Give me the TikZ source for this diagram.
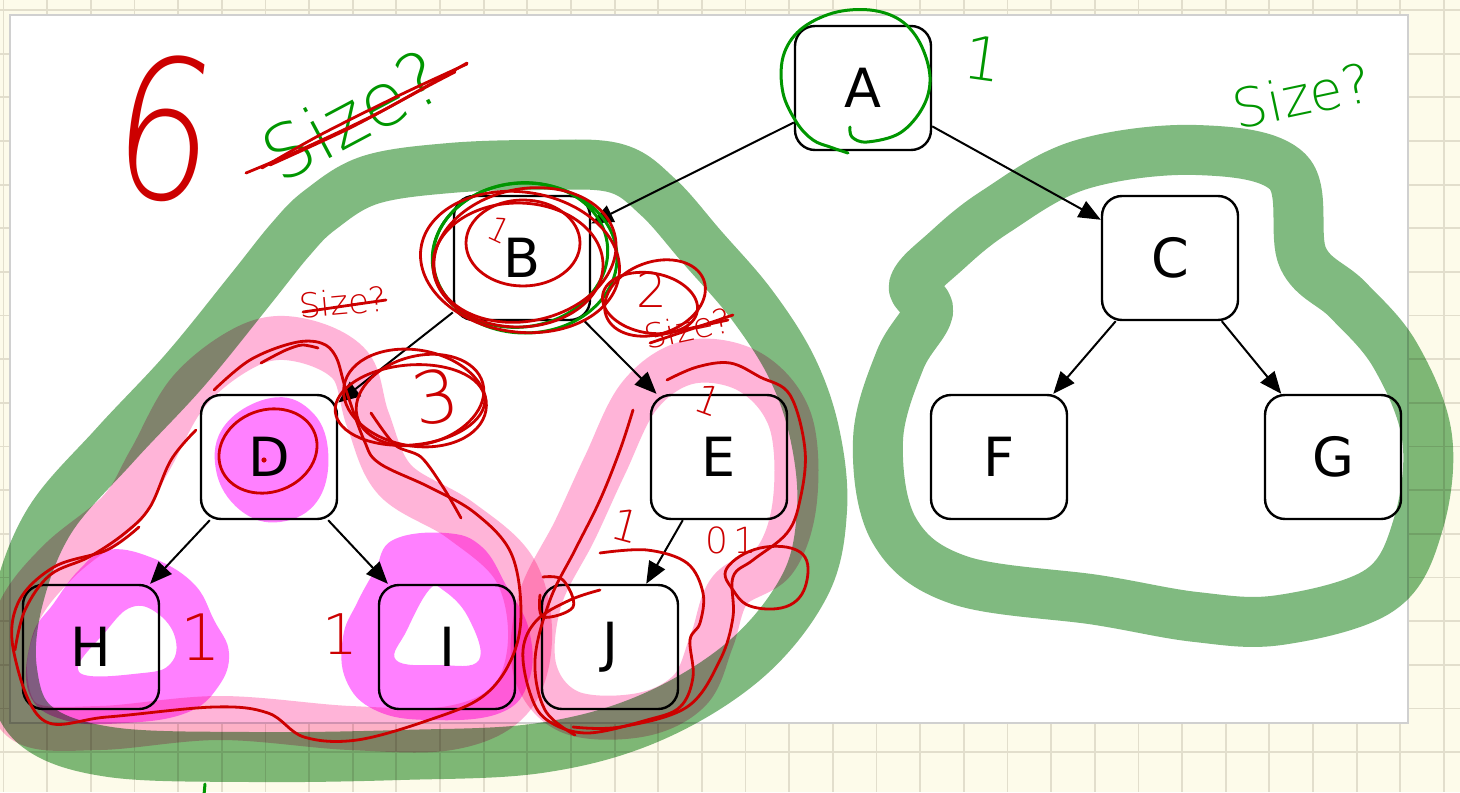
\documentclass[tikz,border=0pt]{standalone}
\usepackage{fontspec}
\setmainfont{DejaVu Sans}
\newfontfamily\handfont{DejaVu Sans ExtraLight}
\usetikzlibrary{arrows.meta}
\definecolor{paper}{RGB}{253,251,234}
\definecolor{gridline}{RGB}{226,222,204}
\definecolor{panelrule}{RGB}{208,208,208}
\definecolor{hlgreen}{RGB}{128,186,128}
\definecolor{hlpink}{RGB}{255,180,216}
\definecolor{hlmagenta}{RGB}{255,128,255}
\definecolor{penred}{RGB}{204,0,0}
\definecolor{pengreen}{RGB}{0,150,0}

\begin{document}
\begin{tikzpicture}[x=0.5pt,y=-0.5pt,
  treenode/.style={draw=black, line width=1.2pt, rounded corners=10pt, fill=white,
    minimum width=68pt, minimum height=62pt, inner sep=0pt, font=\fontsize{27}{30}\selectfont},
  edge/.style={draw=black, line width=1pt, -{Triangle[length=11pt,width=9pt]}},
  greenmarker/.style={draw=hlgreen, line width=25pt, line cap=round, line join=round},
  pinkmarker/.style={draw=hlpink, line width=22pt, line cap=round, line join=round},
  redpen/.style={draw=penred, line width=1.4pt, line cap=round, line join=round},
  greenpen/.style={draw=pengreen, line width=1.5pt, line cap=round, line join=round},
  redhand/.style={text=penred, inner sep=0pt, font=\handfont\fontsize{#1}{#1}\selectfont},
  greenhand/.style={text=pengreen, inner sep=0pt, font=\handfont\fontsize{#1}{#1}\selectfont},
]
\useasboundingbox (0,0) rectangle (1460,792);
\clip (0,0) rectangle (1460,792);

% squared paper and the white sheet
\fill[paper] (0,0) rectangle (1460,792);
\foreach \gx in {0,...,33}
  \draw[gridline, line width=0.9pt] ({3.5+43.65*\gx},0) -- ({3.5+43.65*\gx},792);
\foreach \gy in {0,...,18}
  \draw[gridline, line width=0.9pt] (0,{10+43.65*\gy}) -- (1460,{10+43.65*\gy});
\draw[panelrule, line width=0.8pt, fill=white] (10,15) rectangle (1408,723);

% the tree
\node[treenode] (A) at (863,88) {A};
\node[treenode] (B) at (522,258) {B};
\node[treenode] (C) at (1170,258) {C};
\node[treenode] (D) at (269,457) {D};
\node[treenode] (E) at (719,457) {E};
\node[treenode] (F) at (999,457) {F};
\node[treenode] (G) at (1333,457) {G};
\node[treenode] (H) at (91,647) {H};
\node[treenode] (I) at (447,647) {I};
\node[treenode] (J) at (610,647) {J};

\draw[edge] (A) -- (B);
\draw[edge] (A) -- (C);
\draw[edge] (B) -- (D);
\draw[edge] (B) -- (E);
\draw[edge] (C) -- (F);
\draw[edge] (C) -- (G);
\draw[edge] (D) -- (H);
\draw[edge] (D) -- (I);
\draw[edge] (E) -- (J);

% highlighter strokes
\begin{scope}[blend mode=multiply]
  % left subtree of A
  \draw[greenmarker] plot[smooth cycle, tension=0.6] coordinates {
    (320,210) (370,180) (450,168) (540,165) (615,168) (658,197) (702,247) (752,305)
    (792,368) (815,435) (822,510) (805,585) (745,660) (650,718) (540,748) (400,755)
    (250,757) (110,752) (35,725) (12,670) (18,600) (50,520) (115,445) (185,370)
    (250,290) (290,240)};
  % right subtree of A
  \draw[greenmarker] plot[smooth cycle, tension=0.6] coordinates {
    (1080,165) (1196,150) (1288,172) (1303,258) (1348,300) (1395,355) (1427,437)
    (1418,525) (1380,590) (1280,620) (1196,617) (1097,600) (959,580) (894,530)
    (878,440) (900,360) (928,312) (914,285) (945,252) (995,212)};
  % subtree of D
  \draw[pinkmarker] plot[smooth cycle, tension=0.6] coordinates {
    (250,345) (300,340) (350,365) (368,420) (395,480) (460,520) (515,570) (530,640)
    (510,700) (450,728) (350,728) (220,718) (100,728) (25,722) (5,670) (20,610)
    (60,560) (120,510) (150,460) (190,390)};
  % subtree of E
  \draw[pinkmarker] plot[smooth cycle, tension=0.6] coordinates {
    (690,362) (750,372) (790,420) (795,500) (775,560) (730,590) (712,640) (690,690)
    (640,715) (570,712) (535,670) (540,600) (575,530) (605,465) (640,395)};
  % leaves and D
  \fill[hlmagenta] plot[smooth cycle, tension=0.7] coordinates {
    (271,398) (310,410) (328,450) (318,500) (280,522) (240,510) (216,470) (225,425)};
  \fill[hlmagenta, even odd rule]
    plot[smooth cycle, tension=0.7] coordinates {
      (107,550) (150,557) (193,583) (214,620) (229,653) (218,687) (186,713) (125,723)
      (64,720) (29,693) (32,637) (54,603) (79,570)}
    plot[smooth cycle, tension=0.7] coordinates {
      (132,607) (157,613) (175,637) (171,663) (143,673) (79,672) (107,630)};
  \fill[hlmagenta, even odd rule]
    plot[smooth cycle, tension=0.7] coordinates {
      (393,540) (446,533) (482,547) (507,587) (529,630) (529,680) (500,713) (429,720)
      (375,710) (346,680) (343,637) (357,603) (375,570)}
    plot[smooth cycle, tension=0.7] coordinates {
      (429,590) (443,590) (468,617) (479,660) (439,665) (396,660) (407,630)};
\end{scope}

% green pen
\draw[greenpen] plot[smooth, tension=0.6] coordinates {
  (850,127) (852,137) (867,142) (900,133) (923,107) (930,77) (920,43) (900,20)
  (870,10) (833,13) (800,30) (783,57) (783,93) (797,123) (813,140) (830,147) (848,153)};
\draw[greenpen] (525,258) ellipse [x radius=46pt, y radius=37.5pt];
\draw[greenpen, rotate around={8:(520,255)}] (520,255) ellipse [x radius=44pt, y radius=36pt];
\draw[greenpen] (205,784) -- (204,795);
\node[greenhand=37, rotate=28] at (352,115) {Size?};
\node[greenhand=30, rotate=-8] at (983,58) {1};
\node[greenhand=27, rotate=12] at (1302,95) {Size?};

% red pen
\node[redhand=78, rotate=-8, yscale=1.25] at (166,128) {6};
\draw[redpen] plot[smooth] coordinates {(246,173) (300,150) (380,112) (467,63)};
\draw[redpen] plot[smooth] coordinates {(467,64) (400,95) (320,135) (262,168)};
\draw[redpen] plot[smooth] coordinates {(270,165) (350,128) (430,85) (455,72)};

\draw[redpen, rotate around={-8:(520,262)}] (520,262) ellipse [x radius=50pt, y radius=35pt];
\draw[redpen, rotate around={12:(525,255)}] (525,255) ellipse [x radius=46pt, y radius=33pt];
\draw[redpen] (518,265) ellipse [x radius=42.5pt, y radius=31pt];
\draw[redpen] (523,243) ellipse [x radius=28.5pt, y radius=21.5pt];
\node[redhand=17, rotate=-25] at (500,230) {1};

\node[redhand=24] at (652,290) {2};
\draw[redpen, rotate around={20:(655,298)}] (655,298) ellipse [x radius=26pt, y radius=18pt];
\draw[redpen, rotate around={-10:(650,303)}] (650,303) ellipse [x radius=24pt, y radius=15pt];

\node[redhand=17, rotate=5] at (343,302) {Size?};
\draw[redpen] (303,312) -- (386,300);
\node[redhand=17, rotate=12] at (688,328) {Size?};
\draw[redpen] (650,343) -- (733,315);
\draw[redpen] (655,336) -- (728,320);

\node[redhand=36, rotate=10] at (435,397) {3};
\draw[redpen, rotate around={-10:(415,398)}] (415,398) ellipse [x radius=36pt, y radius=24pt];
\draw[redpen, rotate around={15:(420,400)}] (420,400) ellipse [x radius=32.5pt, y radius=22pt];
\draw[redpen, rotate around={5:(410,405)}] (410,405) ellipse [x radius=37.5pt, y radius=20pt];
\draw[redpen] plot[smooth] coordinates {(371,413) (395,445) (421,457) (443,487) (461,518)};

\draw[redpen, rotate around={20:(268,451)}] (268,451) ellipse [x radius=25pt, y radius=20.5pt];
\fill[penred] (264,460) circle [radius=1.3pt];
\draw[redpen] plot[smooth] coordinates {(261,363) (272,357) (286,350) (302,345) (318,348)};
\draw[redpen] plot[smooth, tension=0.6] coordinates {
  (214,390) (250,360) (293,343) (321,343) (336,357) (346,390) (364,440) (379,463)
  (429,487) (475,513) (511,553) (521,613) (511,660) (482,697) (429,720) (357,740)
  (304,737) (268,713) (214,707) (107,717) (43,720) (14,653) (18,603) (54,567)
  (107,550) (139,527)};
\draw[redpen] plot[smooth, tension=0.6] coordinates {
  (196,430) (171,460) (150,507) (125,533) (89,557) (50,575) (25,610) (15,650)};
\node[redhand=32] at (201,637) {1};
\node[redhand=28] at (340,634) {1};

\node[redhand=20, rotate=-20] at (708,400) {1};
\node[redhand=22, rotate=-15] at (626,526) {1};
\node[redhand=18] at (731,540) {0\,1};
\draw[redpen] plot[smooth, tension=0.6] coordinates {
  (600,553) (647,550) (687,563) (703,593) (700,623) (690,640) (693,677) (680,707)
  (647,720) (587,733) (547,720) (530,693) (523,650) (537,620) (570,600) (600,590)};
\draw[redpen] plot[smooth, tension=0.6] coordinates {
  (573,727) (620,727) (687,707) (720,660) (733,617) (733,577) (753,560) (787,533)
  (800,500) (805,450) (790,395) (760,377) (730,363) (697,367) (667,380)};
\draw[redpen] plot[smooth, tension=0.6] coordinates {
  (633,410) (620,450) (600,500) (575,550) (550,600) (535,660) (545,710) (575,735)};
\draw[redpen] plot[smooth, tension=0.6] coordinates {
  (543,577) (563,580) (573,607) (543,617) (540,595)};
\draw[redpen] plot[smooth cycle, tension=0.7] coordinates {
  (727,568) (760,548) (800,552) (807,580) (790,605) (753,607) (733,590)};
\end{tikzpicture}
\end{document}
